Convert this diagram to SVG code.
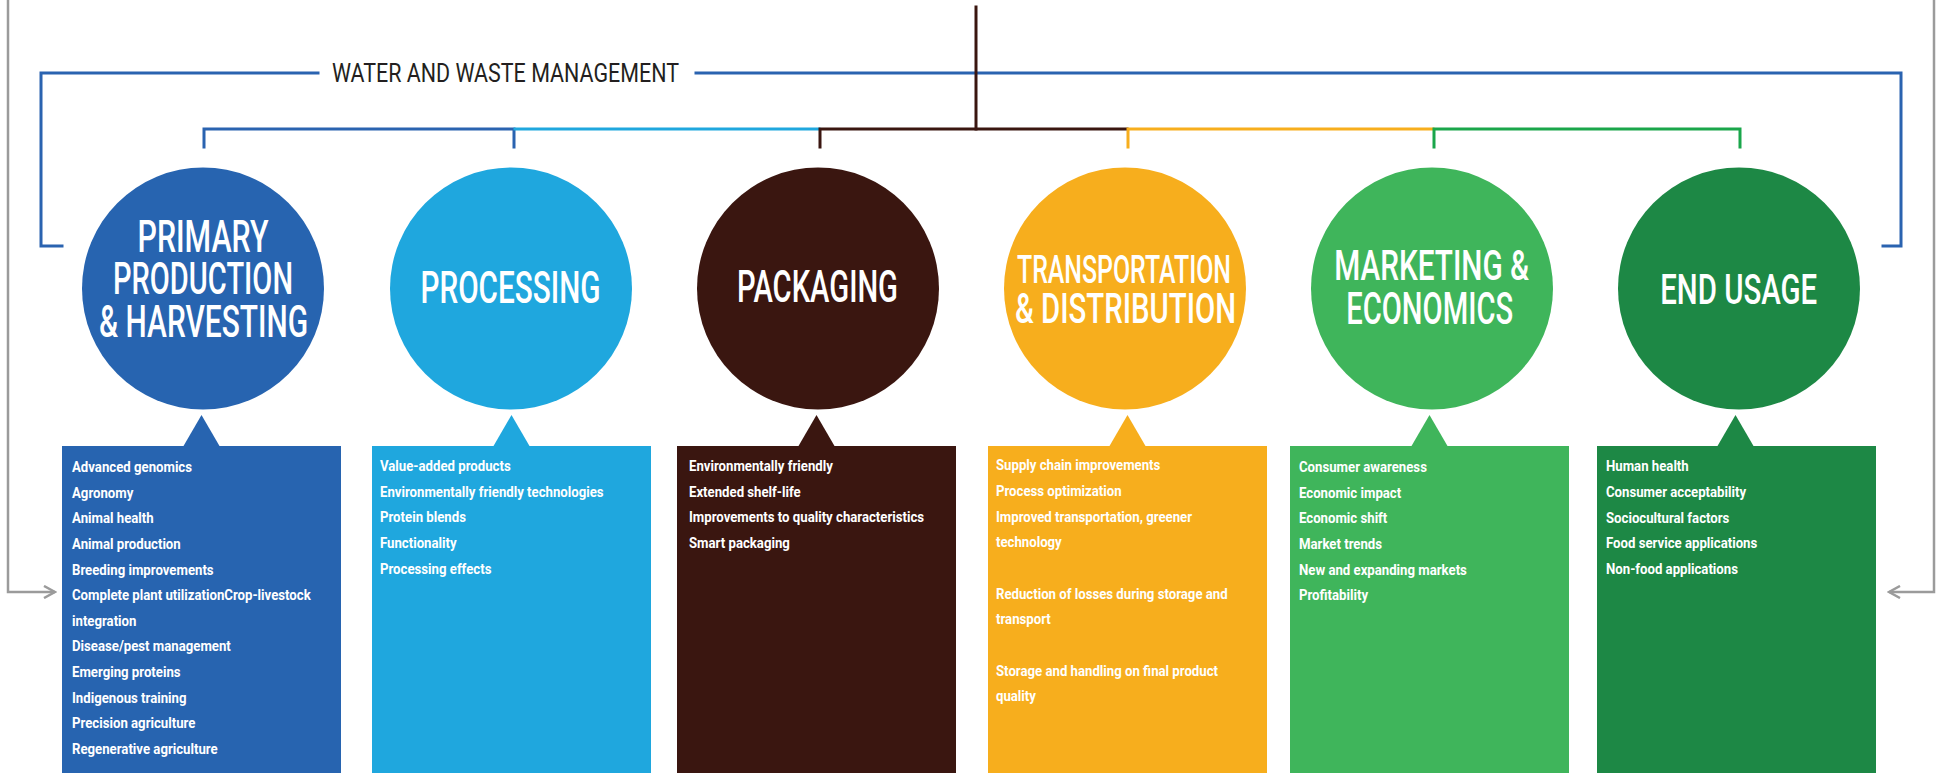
<svg xmlns="http://www.w3.org/2000/svg" width="1942" height="773" viewBox="0 0 1942 773">
<defs>
<style>
.bg{fill:#ffffff}
.title{font-family:Roboto,"Liberation Sans",sans-serif;font-weight:500;fill:#ffffff;text-anchor:middle}
.item{font-family:Roboto,"Liberation Sans",sans-serif;font-weight:700;font-size:15px;fill:#ffffff}
.head{font-family:Roboto,"Liberation Sans",sans-serif;font-weight:400;font-size:25px;fill:#231f20}
.gray{fill:none;stroke:#9b9b9b;stroke-width:2.5}
.br{fill:none;stroke-width:3;stroke-linecap:square}
</style>
<marker id="chev" viewBox="0 0 14 14" refX="12" refY="7" markerWidth="14" markerHeight="14" markerUnits="userSpaceOnUse" orient="auto">
<path d="M1,1 L12,7 L1,13" fill="none" stroke="#9b9b9b" stroke-width="2.5"/>
</marker>
</defs>
<rect class="bg" x="0" y="0" width="1942" height="773"/>

<g id="connectors">
<path class="gray" d="M8,0 V592 H55" marker-end="url(#chev)"/>
<path class="gray" d="M1934,0 V592 H1889" marker-end="url(#chev)"/>
<path class="br" stroke="#2a63b0" d="M62,246 H41 V73 H318"/>
<path class="br" stroke="#2a63b0" d="M696,73 H1901 V246 H1883"/>
<path class="br" stroke="#3a1610" d="M976,7 V129"/>
<path class="br" stroke="#2a63b0" d="M204,147 V129 H514 V147"/>
<path class="br" stroke="#1fa7de" d="M515,129 H819"/>
<path class="br" stroke="#3a1610" d="M820,147 V129 H1127"/>
<path class="br" stroke="#f7ae1d" d="M1128,147 V129 H1433"/>
<path class="br" stroke="#1aa64b" d="M1434,147 V129 H1740 V147"/>
</g>

<text class="head" x="505.5" y="82" text-anchor="middle" textLength="347" lengthAdjust="spacingAndGlyphs">WATER AND WASTE MANAGEMENT</text>

<g id="node-primary">
<circle cx="203" cy="288.5" r="121" fill="#2764b0"/>
<text class="title" x="203" y="251.5" font-size="44" textLength="131" lengthAdjust="spacingAndGlyphs">PRIMARY</text>
<text class="title" x="203" y="294" font-size="44" textLength="180" lengthAdjust="spacingAndGlyphs">PRODUCTION</text>
<text class="title" x="203.5" y="337" font-size="44" textLength="209" lengthAdjust="spacingAndGlyphs">&amp; HARVESTING</text>
<polygon points="183.5,446 201.5,415 219.5,446" fill="#2764b0"/>
<rect x="62" y="446" width="279" height="327" fill="#2764b0"/>
<g transform="translate(72,0) scale(0.88,1)">
<text class="item">
<tspan x="0" y="472">Advanced genomics</tspan>
<tspan x="0" y="497.6">Agronomy</tspan>
<tspan x="0" y="523.3">Animal health</tspan>
<tspan x="0" y="548.9">Animal production</tspan>
<tspan x="0" y="574.6">Breeding improvements</tspan>
<tspan x="0" y="600.2">Complete plant utilizationCrop-livestock</tspan>
<tspan x="0" y="625.8">integration</tspan>
<tspan x="0" y="651.5">Disease/pest management</tspan>
<tspan x="0" y="677.1">Emerging proteins</tspan>
<tspan x="0" y="702.8">Indigenous training</tspan>
<tspan x="0" y="728.4">Precision agriculture</tspan>
<tspan x="0" y="754">Regenerative agriculture</tspan>
</text>
</g>
</g>

<g id="node-processing">
<circle cx="511" cy="288.5" r="121" fill="#1fa7de"/>
<text class="title" x="510.5" y="302.5" font-size="44" textLength="180" lengthAdjust="spacingAndGlyphs">PROCESSING</text>
<polygon points="493.5,446 511.5,415 529.5,446" fill="#1fa7de"/>
<rect x="372" y="446" width="279" height="327" fill="#1fa7de"/>
<g transform="translate(380,0) scale(0.88,1)">
<text class="item">
<tspan x="0" y="471">Value-added products</tspan>
<tspan x="0" y="496.6">Environmentally friendly technologies</tspan>
<tspan x="0" y="522.3">Protein blends</tspan>
<tspan x="0" y="547.9">Functionality</tspan>
<tspan x="0" y="573.6">Processing effects</tspan>
</text>
</g>
</g>

<g id="node-packaging">
<circle cx="818" cy="288.5" r="121" fill="#3a1610"/>
<text class="title" x="817.5" y="301.7" font-size="44" textLength="161" lengthAdjust="spacingAndGlyphs">PACKAGING</text>
<polygon points="798.5,446 816.5,415 834.5,446" fill="#3a1610"/>
<rect x="677" y="446" width="279" height="327" fill="#3a1610"/>
<g transform="translate(689,0) scale(0.88,1)">
<text class="item">
<tspan x="0" y="471">Environmentally friendly</tspan>
<tspan x="0" y="496.6">Extended shelf-life</tspan>
<tspan x="0" y="522.3">Improvements to quality characteristics</tspan>
<tspan x="0" y="547.9">Smart packaging</tspan>
</text>
</g>
</g>

<g id="node-transportation">
<circle cx="1125" cy="288.5" r="121" fill="#f7ae1d"/>
<text class="title" x="1124" y="283" font-size="38" textLength="214" lengthAdjust="spacingAndGlyphs">TRANSPORTATION</text>
<text class="title" x="1125.5" y="323.3" font-size="43" textLength="221" lengthAdjust="spacingAndGlyphs">&amp; DISTRIBUTION</text>
<polygon points="1109.5,446 1127.5,415 1145.5,446" fill="#f7ae1d"/>
<rect x="988" y="446" width="279" height="327" fill="#f7ae1d"/>
<g transform="translate(996,0) scale(0.88,1)">
<text class="item">
<tspan x="0" y="470.5">Supply chain improvements</tspan>
<tspan x="0" y="496.1">Process optimization</tspan>
<tspan x="0" y="521.8">Improved transportation, greener</tspan>
<tspan x="0" y="547.4">technology</tspan>
<tspan x="0" y="598.7">Reduction of losses during storage and</tspan>
<tspan x="0" y="624.3">transport</tspan>
<tspan x="0" y="675.6">Storage and handling on final product</tspan>
<tspan x="0" y="701.2">quality</tspan>
</text>
</g>
</g>

<g id="node-marketing">
<circle cx="1432" cy="288.5" r="121" fill="#3fb55b"/>
<text class="title" x="1431.7" y="280" font-size="42" textLength="195" lengthAdjust="spacingAndGlyphs">MARKETING &amp;</text>
<text class="title" x="1429.7" y="324" font-size="44" textLength="167" lengthAdjust="spacingAndGlyphs">ECONOMICS</text>
<polygon points="1411.5,446 1429.5,415 1447.5,446" fill="#3fb55b"/>
<rect x="1290" y="446" width="279" height="327" fill="#3fb55b"/>
<g transform="translate(1299,0) scale(0.88,1)">
<text class="item">
<tspan x="0" y="472">Consumer awareness</tspan>
<tspan x="0" y="497.6">Economic impact</tspan>
<tspan x="0" y="523.3">Economic shift</tspan>
<tspan x="0" y="548.9">Market trends</tspan>
<tspan x="0" y="574.6">New and expanding markets</tspan>
<tspan x="0" y="600.2">Profitability</tspan>
</text>
</g>
</g>

<g id="node-endusage">
<circle cx="1739" cy="288.5" r="121" fill="#1d8845"/>
<text class="title" x="1738.7" y="304" font-size="42" textLength="157" lengthAdjust="spacingAndGlyphs">END USAGE</text>
<polygon points="1717.5,446 1735.5,415 1753.5,446" fill="#1d8845"/>
<rect x="1597" y="446" width="279" height="327" fill="#1d8845"/>
<g transform="translate(1606,0) scale(0.88,1)">
<text class="item">
<tspan x="0" y="471.5">Human health</tspan>
<tspan x="0" y="497.1">Consumer acceptability</tspan>
<tspan x="0" y="522.8">Sociocultural factors</tspan>
<tspan x="0" y="548.4">Food service applications</tspan>
<tspan x="0" y="574.1">Non-food applications</tspan>
</text>
</g>
</g>
</svg>
